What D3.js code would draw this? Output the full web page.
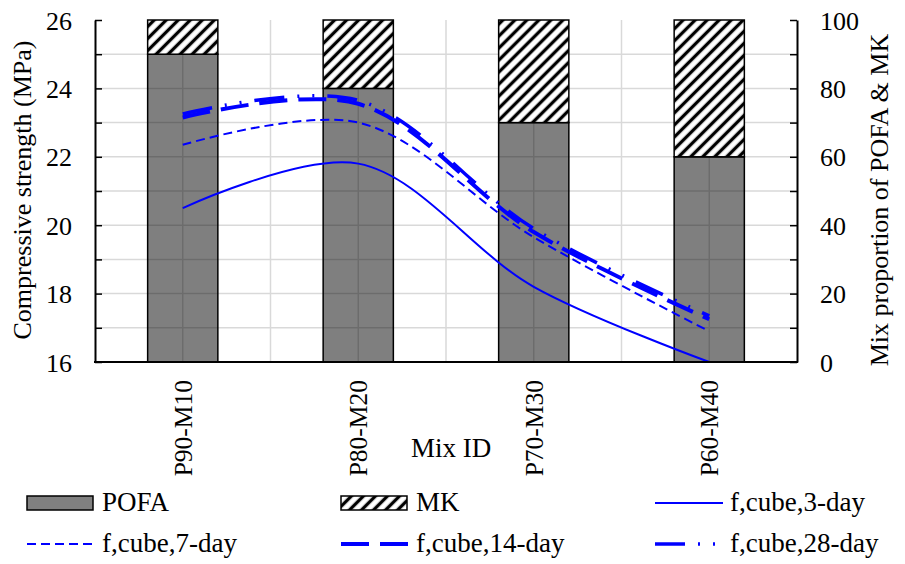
<!DOCTYPE html>
<html>
<head>
<meta charset="utf-8">
<script src="https://cdn.jsdelivr.net/npm/d3@7"></script>
<style>
  html, body { margin: 0; padding: 0; background: #fff; }
  svg text { font-family: "Liberation Serif", "DejaVu Serif", serif !important; fill: #000; }
</style>
</head>
<body>
<section></section>
<script>
const mixIds = ["P90-M10", "P80-M20", "P70-M30", "P60-M40"];
const pofa = [90, 80, 70, 60];
const mk = [10, 20, 30, 40];
const day3 = [20.5, 21.8, 18.2, 16.0];
const day7 = [22.35, 23.0, 19.65, 16.9];
const day14 = [23.15, 23.55, 19.8, 17.25];
const day28 = [23.25, 23.65, 19.9, 17.35];
const leftTicks = [16, 18, 20, 22, 24, 26];
const rightTicks = [0, 20, 40, 60, 80, 100];

const width = 905;
const height = 564;
const marginTop = 20;
const marginRight = 108;
const marginBottom = 202;
const marginLeft = 95;

const x = d3.scaleBand()
    .domain(mixIds)
    .range([marginLeft, width - marginRight])
    .paddingInner(0)
    .paddingOuter(0);

const y = d3.scaleLinear()
    .domain([16, 26])
    .range([height - marginBottom, marginTop]);

const y2 = d3.scaleLinear()
    .domain([0, 100])
    .range([height - marginBottom, marginTop]);

const svg = d3.select("section")
    .append("svg")
    .attr("width", width)
    .attr("height", height)
    .attr("viewBox", [0, 0, width, height]);

// hatch for MK
const defs = svg.append("defs");
const pat = defs.append("pattern")
    .attr("id", "hatch")
    .attr("patternUnits", "userSpaceOnUse")
    .attr("width", 8.5)
    .attr("height", 8.5)
    .attr("patternTransform", "rotate(45)");
pat.append("rect").attr("width", 8.5).attr("height", 8.5).attr("fill", "#fff");
pat.append("line")
    .attr("x1", 4.25).attr("y1", 0).attr("x2", 4.25).attr("y2", 8.5)
    .attr("stroke", "#000").attr("stroke-width", 3.3);

const plotLeft = marginLeft, plotRight = width - marginRight;
const plotTop = marginTop, plotBottom = height - marginBottom;

// grid
const grid = svg.append("g").attr("stroke", "#d9d9d9").attr("stroke-width", 1.5);
grid.selectAll("line.h")
    .data(d3.range(17, 26))
    .join("line")
    .attr("x1", plotLeft).attr("x2", plotRight)
    .attr("y1", d => y(d)).attr("y2", d => y(d));
grid.selectAll("line.v")
    .data(d3.range(1, 8))
    .join("line")
    .attr("x1", d => plotLeft + d * x.bandwidth() / 2)
    .attr("x2", d => plotLeft + d * x.bandwidth() / 2)
    .attr("y1", plotTop).attr("y2", plotBottom);

const barW = x.bandwidth() * 0.4;
const bx = d => x(d) + (x.bandwidth() - barW) / 2;

// POFA bars (semi transparent so grid shows through)
svg.append("g")
    .selectAll("rect")
    .data(mixIds)
    .join("rect")
    .attr("x", d => bx(d))
    .attr("width", barW)
    .attr("y", (d, i) => y2(pofa[i]))
    .attr("height", (d, i) => y2(0) - y2(pofa[i]))
    .attr("fill", "#000")
    .attr("fill-opacity", 0.5)
    .attr("stroke", "#000")
    .attr("stroke-width", 1.5);

// MK bars stacked on top
svg.append("g")
    .selectAll("rect")
    .data(mixIds)
    .join("rect")
    .attr("x", d => bx(d))
    .attr("width", barW)
    .attr("y", (d, i) => y2(pofa[i] + mk[i]))
    .attr("height", (d, i) => y2(pofa[i]) - y2(pofa[i] + mk[i]))
    .attr("fill", "url(#hatch)")
    .attr("stroke", "#000")
    .attr("stroke-width", 1.5);

// strength lines
const series = [
    {name: "f,cube,3-day", values: day3, width: 2, dash: null},
    {name: "f,cube,7-day", values: day7, width: 2, dash: "9,5"},
    {name: "f,cube,14-day", values: day14, width: 4, dash: "28,11"},
    {name: "f,cube,28-day", values: day28, width: 3.5, dash: "30,13,2,13,2,13"}
];

const line = d3.line()
    .x((d, i) => x(mixIds[i]) + x.bandwidth() / 2)
    .y(d => y(d))
    .curve(d3.curveCatmullRom.alpha(0.5));

svg.append("g")
    .selectAll("path")
    .data(series)
    .join("path")
    .attr("fill", "none")
    .attr("stroke", "#0000ff")
    .attr("stroke-width", d => d.width)
    .attr("stroke-dasharray", d => d.dash)
    .attr("d", d => line(d.values));

// axes
const axisStyle = g => {
    g.attr("font-family", null);
    g.select(".domain").attr("stroke", "#000").attr("stroke-width", 2);
    g.selectAll(".tick line").attr("stroke", "#000").attr("stroke-width", 1.5);
    g.selectAll(".tick text").attr("font-size", 26);
};

svg.append("g")
    .attr("transform", `translate(${plotLeft},0)`)
    .call(d3.axisLeft(y).tickValues(d3.range(16, 27)).tickSize(-7).tickSizeOuter(0)
        .tickFormat(d => leftTicks.includes(d) ? d : "").tickPadding(23))
    .call(axisStyle)
    .call(g => g.selectAll(".tick text").attr("dy", "0.35em"));

svg.append("g")
    .attr("transform", `translate(${plotRight},0)`)
    .call(d3.axisRight(y2).tickValues(d3.range(0, 101, 10)).tickSize(-7).tickSizeOuter(0)
        .tickFormat(d => rightTicks.includes(d) ? d : "").tickPadding(23))
    .call(axisStyle)
    .call(g => g.selectAll(".tick text").attr("dy", "0.35em"));

svg.append("line")
    .attr("x1", plotLeft - 1).attr("x2", plotRight + 1)
    .attr("y1", plotBottom).attr("y2", plotBottom)
    .attr("stroke", "#000").attr("stroke-width", 2);

// category labels
svg.append("g")
    .selectAll("text")
    .data(mixIds)
    .join("text")
    .attr("transform", d => `translate(${x(d) + x.bandwidth() / 2},380) rotate(-90)`)
    .attr("text-anchor", "end")
    .attr("dy", "0.35em")
    .attr("font-size", 25.5)
    .text(d => d);

// axis titles
svg.append("text")
    .attr("x", 451).attr("y", 457)
    .attr("text-anchor", "middle")
    .attr("font-size", 27)
    .text("Mix ID");

svg.append("text")
    .attr("transform", "translate(31,190) rotate(-90)")
    .attr("text-anchor", "middle")
    .attr("font-size", 26)
    .text("Compressive strength (MPa)");

svg.append("text")
    .attr("transform", "translate(888,200) rotate(-90)")
    .attr("text-anchor", "middle")
    .attr("font-size", 26)
    .text("Mix proportion of POFA & MK");

// legend
const legend = svg.append("g");
const rectItems = [
    {name: "POFA", x: 27, fill: "#808080"},
    {name: "MK", x: 341, fill: "url(#hatch)"}
];
rectItems.forEach(d => {
    legend.append("rect")
        .attr("x", d.x).attr("y", 496).attr("width", 66).attr("height", 14)
        .attr("fill", d.fill).attr("stroke", "#000").attr("stroke-width", 1.5);
    legend.append("text")
        .attr("x", d.x + 75).attr("y", 511)
        .attr("font-size", 27)
        .text(d.name);
});

const lineItems = [
    {s: series[0], x: 655, y: 503},
    {s: series[1], x: 27, y: 544},
    {s: series[2], x: 341, y: 544},
    {s: series[3], x: 655, y: 544}
];
lineItems.forEach(d => {
    legend.append("line")
        .attr("x1", d.x).attr("x2", d.x + 68)
        .attr("y1", d.y).attr("y2", d.y)
        .attr("stroke", "#0000ff")
        .attr("stroke-width", d.s.width)
        .attr("stroke-dasharray", d.s.dash);
    legend.append("text")
        .attr("x", d.x + 75).attr("y", d.y + 8)
        .attr("font-size", 27)
        .text(d.s.name);
});
</script>
</body>
</html>
